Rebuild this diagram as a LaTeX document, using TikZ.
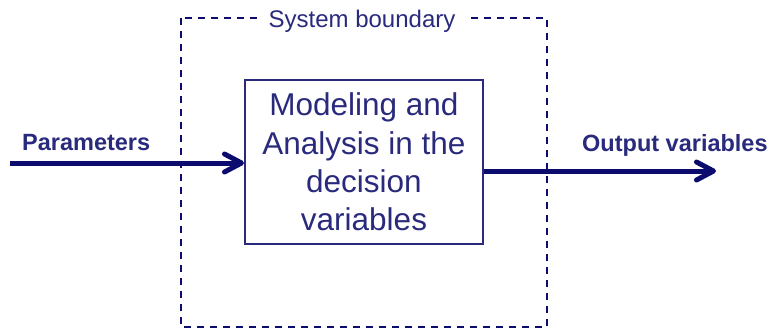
\documentclass[tikz,border=0pt]{standalone}
\usepackage{fontspec}
\setmainfont{Liberation Sans}
\usetikzlibrary{arrows.meta}
\definecolor{inkblue}{RGB}{42,42,125}
\definecolor{arrowblue}{RGB}{12,12,110}
\tikzset{
  boundary/.style={draw=arrowblue, line width=2pt, dash pattern=on 7pt off 6pt},
  procbox/.style={draw=inkblue, line width=2pt, minimum width=238pt, minimum height=164pt,
    inner sep=0pt, text=inkblue, align=center,
    font=\fontsize{31.5}{38.3}\selectfont},
  flowlabel/.style={text=inkblue, font=\bfseries\fontsize{23.5}{28}\selectfont, inner sep=0pt},
  titlelabel/.style={text=inkblue, fill=white, inner xsep=11pt, inner ysep=2pt,
    font=\fontsize{24}{28}\selectfont},
  flow/.style={draw=arrowblue, line width=5pt,
    -{Straight Barb[length=17pt,width=18pt,line width=5pt,round]}}
}
\begin{document}
\begin{tikzpicture}[x=1pt,y=-1pt]
  \useasboundingbox (0,0) rectangle (773,333);
  % system boundary
  \draw[boundary] (181,18) rectangle (547,327);
  \node[titlelabel, anchor=base] (title) at (362,27) {System boundary};
  % central process
  \node[procbox] (proc) at (364,162) {Modeling and\\Analysis in the\\decision\\variables};
  % inputs and outputs
  \coordinate (inStart) at (10,163);
  \coordinate (outEnd) at (716,171);
  \coordinate (outStart) at (proc.east |- outEnd);
  \draw[flow] (inStart) -- (inStart -| proc.west);
  \draw[flow] (outStart) -- (outEnd);
  \node[flowlabel, anchor=base west] (param) at (22,150) {Parameters};
  \node[flowlabel, anchor=base west] (outv) at (582,151) {Output variables};
\end{tikzpicture}
\end{document}
